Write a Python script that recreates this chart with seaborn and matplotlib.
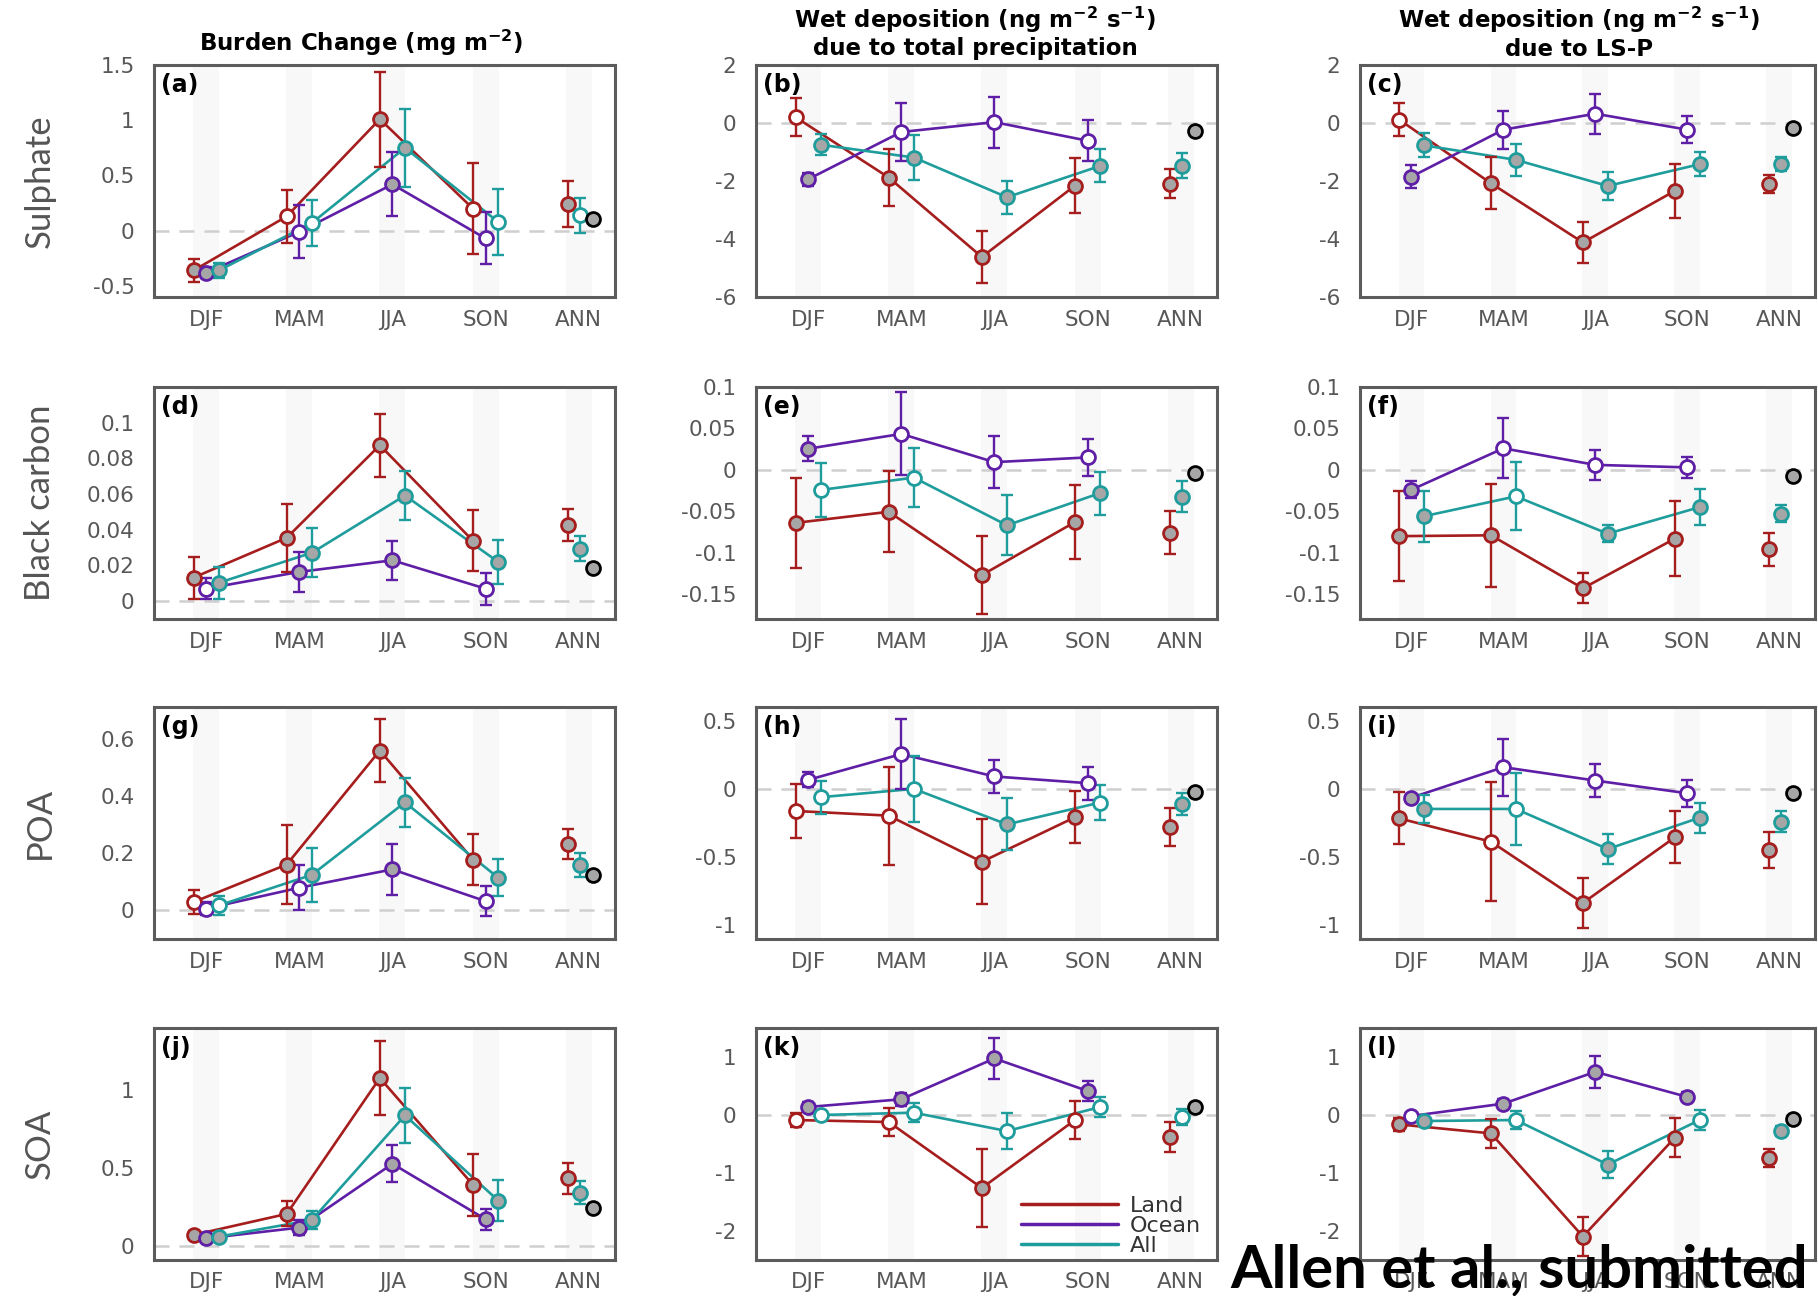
import matplotlib
matplotlib.use("Agg")
import matplotlib.pyplot as plt
from matplotlib.lines import Line2D
import numpy as np
import seaborn as sns

# ---------------------------------------------------------------- data
seasons = ["DJF", "MAM", "JJA", "SON", "ANN"]
regions = ["Land", "Ocean", "All"]
species = ["Sulphate", "Black carbon", "POA", "SOA"]
letters = ["a", "b", "c", "d", "e", "f", "g", "h", "i", "j", "k", "l"]

# sig: 1 = significant change (grey-filled marker), 0 = not significant (open marker)
# Ocean has no annual value; the annual global mean is a separate point.

# (a) Sulphate burden change
a_land, a_land_err, a_land_sig = [-0.36, 0.13, 1.01, 0.20, 0.24], [0.10, 0.24, 0.43, 0.41, 0.21], [1, 0, 1, 0, 1]
a_ocean, a_ocean_err, a_ocean_sig = [-0.38, -0.01, 0.42, -0.07], [0.05, 0.24, 0.29, 0.235], [1, 0, 1, 0]
a_all, a_all_err, a_all_sig = [-0.36, 0.07, 0.75, 0.08, 0.14], [0.07, 0.21, 0.35, 0.30, 0.16], [1, 0, 1, 0, 0]
a_glob, a_glob_err = 0.11, 0.02

# (b) Sulphate wet deposition, total precipitation
b_land, b_land_err, b_land_sig = [0.20, -1.88, -4.62, -2.16, -2.10], [0.65, 0.97, 0.90, 0.94, 0.50], [0, 1, 1, 1, 1]
b_ocean, b_ocean_err, b_ocean_sig = [-1.94, -0.31, 0.03, -0.61], [0.22, 1.00, 0.88, 0.70], [1, 0, 0, 0]
b_all, b_all_err, b_all_sig = [-0.75, -1.19, -2.56, -1.48, -1.48], [0.36, 0.78, 0.57, 0.57, 0.43], [1, 1, 1, 1, 1]
b_glob, b_glob_err = -0.29, 0.0

# (c) Sulphate wet deposition, LS-P
c_land, c_land_err, c_land_sig = [0.12, -2.08, -4.12, -2.34, -2.11], [0.58, 0.90, 0.72, 0.92, 0.30], [0, 1, 1, 1, 1]
c_ocean, c_ocean_err, c_ocean_sig = [-1.85, -0.23, 0.32, -0.23], [0.39, 0.65, 0.69, 0.47], [1, 0, 0, 0]
c_all, c_all_err, c_all_sig = [-0.77, -1.27, -2.17, -1.42, -1.41], [0.41, 0.56, 0.49, 0.42, 0.25], [1, 1, 1, 1, 1]
c_glob, c_glob_err = -0.17, 0.0

# (d) Black carbon burden change
d_land, d_land_err, d_land_sig = [0.0132, 0.0355, 0.0874, 0.0338, 0.0427], [0.0118, 0.019, 0.0177, 0.017, 0.0092], [1, 1, 1, 1, 1]
d_ocean, d_ocean_err, d_ocean_sig = [0.007, 0.0164, 0.0229, 0.007], [0.006, 0.011, 0.011, 0.009], [0, 1, 1, 0]
d_all, d_all_err, d_all_sig = [0.0103, 0.0271, 0.0592, 0.022, 0.0295], [0.009, 0.0138, 0.014, 0.0122, 0.0072], [1, 1, 1, 1, 1]
d_glob, d_glob_err = 0.0188, 0.002

# (e) Black carbon wet deposition, total precipitation
e_land, e_land_err, e_land_sig = [-0.064, -0.0506, -0.127, -0.063, -0.076], [0.054, 0.049, 0.047, 0.045, 0.026], [1, 1, 1, 1, 1]
e_ocean, e_ocean_err, e_ocean_sig = [0.0255, 0.0434, 0.0093, 0.015], [0.015, 0.05, 0.031, 0.022], [1, 0, 0, 0]
e_all, e_all_err, e_all_sig = [-0.0243, -0.0093, -0.0669, -0.028, -0.0324], [0.032, 0.036, 0.036, 0.026, 0.019], [0, 0, 1, 1, 1]
e_glob, e_glob_err = -0.0032, 0.0

# (f) Black carbon wet deposition, LS-P
f_land, f_land_err, f_land_sig = [-0.080, -0.079, -0.143, -0.083, -0.096], [0.054, 0.062, 0.018, 0.045, 0.0195], [1, 1, 1, 1, 1]
f_ocean, f_ocean_err, f_ocean_sig = [-0.024, 0.026, 0.006, 0.003], [0.010, 0.036, 0.018, 0.013], [1, 0, 0, 0]
f_all, f_all_err, f_all_sig = [-0.056, -0.032, -0.077, -0.045, -0.053], [0.031, 0.041, 0.010, 0.022, 0.010], [1, 0, 1, 1, 1]
f_glob, f_glob_err = -0.007, 0.0

# (g) POA burden change
g_land, g_land_err, g_land_sig = [0.029, 0.16, 0.558, 0.177, 0.232], [0.042, 0.137, 0.11, 0.089, 0.052], [0, 1, 1, 1, 1]
g_ocean, g_ocean_err, g_ocean_sig = [0.006, 0.079, 0.143, 0.032], [0.023, 0.078, 0.09, 0.053], [0, 0, 1, 0]
g_all, g_all_err, g_all_sig = [0.017, 0.124, 0.377, 0.114, 0.16], [0.033, 0.095, 0.085, 0.065, 0.042], [0, 1, 1, 1, 1]
g_glob, g_glob_err = 0.124, 0.012

# (h) POA wet deposition, total precipitation
h_land, h_land_err, h_land_sig = [-0.162, -0.196, -0.534, -0.208, -0.277], [0.20, 0.36, 0.31, 0.19, 0.14], [0, 0, 1, 1, 1]
h_ocean, h_ocean_err, h_ocean_sig = [0.066, 0.255, 0.091, 0.042], [0.055, 0.257, 0.12, 0.12], [0, 0, 0, 0]
h_all, h_all_err, h_all_sig = [-0.061, 0.0, -0.26, -0.10, -0.11], [0.12, 0.243, 0.19, 0.125, 0.08], [0, 0, 1, 0, 1]
h_glob, h_glob_err = -0.02, 0.0

# (i) POA wet deposition, LS-P
i_land, i_land_err, i_land_sig = [-0.216, -0.387, -0.836, -0.355, -0.449], [0.19, 0.435, 0.186, 0.19, 0.132], [1, 0, 1, 1, 1]
i_ocean, i_ocean_err, i_ocean_sig = [-0.064, 0.159, 0.061, -0.032], [0.03, 0.21, 0.12, 0.10], [1, 0, 0, 0]
i_all, i_all_err, i_all_sig = [-0.147, -0.147, -0.441, -0.211, -0.24], [0.105, 0.267, 0.11, 0.11, 0.076], [1, 0, 1, 1, 1]
i_glob, i_glob_err = -0.027, 0.0

# (j) SOA burden change
j_land, j_land_err, j_land_sig = [0.071, 0.206, 1.079, 0.393, 0.436], [0.028, 0.08, 0.238, 0.20, 0.10], [1, 1, 1, 1, 1]
j_ocean, j_ocean_err, j_ocean_sig = [0.049, 0.118, 0.528, 0.172], [0.015, 0.05, 0.12, 0.068], [1, 1, 1, 1]
j_all, j_all_err, j_all_sig = [0.06, 0.167, 0.839, 0.292, 0.343], [0.012, 0.056, 0.175, 0.134, 0.075], [1, 1, 1, 1, 1]
j_glob, j_glob_err = 0.247, 0.0

# (k) SOA wet deposition, total precipitation
k_land, k_land_err, k_land_sig = [-0.087, -0.121, -1.258, -0.087, -0.381], [0.115, 0.24, 0.67, 0.32, 0.265], [0, 0, 1, 0, 1]
k_ocean, k_ocean_err, k_ocean_sig = [0.138, 0.271, 0.975, 0.415], [0.078, 0.115, 0.35, 0.174], [1, 1, 1, 1]
k_all, k_all_err, k_all_sig = [0.0, 0.04, -0.277, 0.138, -0.029], [0.04, 0.16, 0.315, 0.18, 0.14], [0, 0, 0, 0, 0]
k_glob, k_glob_err = 0.138, 0.0

# (l) SOA wet deposition, LS-P
l_land, l_land_err, l_land_sig = [-0.162, -0.317, -2.095, -0.392, -0.739], [0.115, 0.245, 0.33, 0.335, 0.16], [1, 1, 1, 1, 1]
l_ocean, l_ocean_err, l_ocean_sig = [-0.017, 0.196, 0.744, 0.312], [0.04, 0.087, 0.28, 0.078], [0, 1, 1, 1]
l_all, l_all_err, l_all_sig = [-0.104, -0.087, -0.854, -0.087, -0.277], [0.04, 0.16, 0.236, 0.18, 0.087], [1, 0, 1, 0, 1]
l_glob, l_glob_err = -0.075, 0.0

# y-axis ticks and labels
yticks_a, ylabels_a = [-0.5, 0, 0.5, 1, 1.5], ["-0.5", "0", "0.5", "1", "1.5"]
yticks_bc, ylabels_bc = [-6, -4, -2, 0, 2], ["-6", "-4", "-2", "0", "2"]
yticks_d, ylabels_d = [0, 0.02, 0.04, 0.06, 0.08, 0.1], ["0", "0.02", "0.04", "0.06", "0.08", "0.1"]
yticks_ef, ylabels_ef = [-0.15, -0.1, -0.05, 0, 0.05, 0.1], ["-0.15", "-0.1", "-0.05", "0", "0.05", "0.1"]
yticks_g, ylabels_g = [0, 0.2, 0.4, 0.6], ["0", "0.2", "0.4", "0.6"]
yticks_hi, ylabels_hi = [-1, -0.5, 0, 0.5], ["-1", "-0.5", "0", "0.5"]
yticks_j, ylabels_j = [0, 0.5, 1], ["0", "0.5", "1"]
yticks_kl, ylabels_kl = [-2, -1, 0, 1], ["-2", "-1", "0", "1"]

# ---------------------------------------------------------------- style
sns.set_theme(style="white")
plt.rcParams["font.family"] = ["DejaVu Sans"]

colors = {"Land": "#a51d1d", "Ocean": "#5f1ea6", "All": "#1f9d9c"}
fill_sig, fill_ns = "#a6a6a6", "#ffffff"
tick_grey = "#585858"
offsets = {"Land": -0.135, "Ocean": 0.0, "All": 0.135}
ann_offsets = {"Land": -0.11, "All": 0.015, "glob": 0.15}
narrow = ["Liberation Sans Narrow", "Lato", "DejaVu Sans"]

W, H = 1818, 1296
fig = plt.figure(figsize=(W / 100, H / 100), dpi=100)

col_left = [154, 756, 1360]
col_width = [461, 461, 455]
row_top = [65, 387, 707, 1028]
row_h = 232

panels = [
    ((a_land, a_land_err, a_land_sig), (a_ocean, a_ocean_err, a_ocean_sig), (a_all, a_all_err, a_all_sig), (a_glob, a_glob_err), (-0.6, 1.5), yticks_a, ylabels_a),
    ((b_land, b_land_err, b_land_sig), (b_ocean, b_ocean_err, b_ocean_sig), (b_all, b_all_err, b_all_sig), (b_glob, b_glob_err), (-6, 2), yticks_bc, ylabels_bc),
    ((c_land, c_land_err, c_land_sig), (c_ocean, c_ocean_err, c_ocean_sig), (c_all, c_all_err, c_all_sig), (c_glob, c_glob_err), (-6, 2), yticks_bc, ylabels_bc),
    ((d_land, d_land_err, d_land_sig), (d_ocean, d_ocean_err, d_ocean_sig), (d_all, d_all_err, d_all_sig), (d_glob, d_glob_err), (-0.01, 0.12), yticks_d, ylabels_d),
    ((e_land, e_land_err, e_land_sig), (e_ocean, e_ocean_err, e_ocean_sig), (e_all, e_all_err, e_all_sig), (e_glob, e_glob_err), (-0.18, 0.1), yticks_ef, ylabels_ef),
    ((f_land, f_land_err, f_land_sig), (f_ocean, f_ocean_err, f_ocean_sig), (f_all, f_all_err, f_all_sig), (f_glob, f_glob_err), (-0.18, 0.1), yticks_ef, ylabels_ef),
    ((g_land, g_land_err, g_land_sig), (g_ocean, g_ocean_err, g_ocean_sig), (g_all, g_all_err, g_all_sig), (g_glob, g_glob_err), (-0.1, 0.71), yticks_g, ylabels_g),
    ((h_land, h_land_err, h_land_sig), (h_ocean, h_ocean_err, h_ocean_sig), (h_all, h_all_err, h_all_sig), (h_glob, h_glob_err), (-1.1, 0.6), yticks_hi, ylabels_hi),
    ((i_land, i_land_err, i_land_sig), (i_ocean, i_ocean_err, i_ocean_sig), (i_all, i_all_err, i_all_sig), (i_glob, i_glob_err), (-1.1, 0.6), yticks_hi, ylabels_hi),
    ((j_land, j_land_err, j_land_sig), (j_ocean, j_ocean_err, j_ocean_sig), (j_all, j_all_err, j_all_sig), (j_glob, j_glob_err), (-0.09, 1.4), yticks_j, ylabels_j),
    ((k_land, k_land_err, k_land_sig), (k_ocean, k_ocean_err, k_ocean_sig), (k_all, k_all_err, k_all_sig), (k_glob, k_glob_err), (-2.5, 1.5), yticks_kl, ylabels_kl),
    ((l_land, l_land_err, l_land_sig), (l_ocean, l_ocean_err, l_ocean_sig), (l_all, l_all_err, l_all_sig), (l_glob, l_glob_err), (-2.5, 1.5), yticks_kl, ylabels_kl),
]


def draw_marker(ax, x, y, edge, sig):
    ax.plot([x], [y], "o", ms=10, mec=edge, mew=2.0,
            mfc=fill_sig if sig else fill_ns, zorder=4, clip_on=False)


for idx, (land, ocean, allr, glob, ylim, yt, yl) in enumerate(panels):
    r, c = divmod(idx, 3)
    ax = fig.add_axes([col_left[c] / W, 1 - (row_top[r] + row_h) / H,
                       col_width[c] / W, row_h / H])
    ax.set_facecolor("white")

    # faint season bands and zero reference line
    for i in range(len(seasons)):
        ax.axvspan(i - 0.14, i + 0.14, color="#f8f8f8", lw=0, zorder=0)
    ax.axhline(0, color="#cfcfcf", lw=1.8, ls=(0, (6, 4)), zorder=1)

    for name, (vals, errs, sig) in zip(regions, (land, ocean, allr)):
        col = colors[name]
        xs = [i + offsets[name] for i in range(4)]
        sns.lineplot(x=xs, y=vals[:4], ax=ax, color=col, linewidth=1.9,
                     legend=False, zorder=2)
        if len(vals) == 5:
            xs = xs + [4 + ann_offsets[name]]
        ax.errorbar(xs, vals, yerr=errs, fmt="none", ecolor=col,
                    elinewidth=1.7, capsize=4.5, capthick=1.7, zorder=3)
        for x, y, s in zip(xs, vals, sig):
            draw_marker(ax, x, y, col, s)

    gx = 4 + ann_offsets["glob"]
    if glob[1] > 0:
        ax.errorbar([gx], [glob[0]], yerr=[glob[1]], fmt="none", ecolor="black",
                    elinewidth=1.7, capsize=4.5, capthick=1.7, zorder=3)
    draw_marker(ax, gx, glob[0], "black", 1)

    ax.set_xlim(-0.56, 4.39)
    ax.set_ylim(*ylim)
    ax.set_xticks(range(len(seasons)))
    ax.set_xticklabels(seasons)
    ax.set_yticks(yt)
    ax.set_yticklabels(yl)
    ax.tick_params(axis="both", length=0, labelsize=15.5, labelcolor=tick_grey)
    ax.tick_params(axis="x", pad=9)
    ax.tick_params(axis="y", pad=14)
    for sp in ax.spines.values():
        sp.set_visible(True)
        sp.set_color("#5c5c5c")
        sp.set_linewidth(2.2)
    ax.grid(False)

    ax.text(0.016, 0.965, f"({letters[idx]})", transform=ax.transAxes,
            ha="left", va="top", fontsize=17, fontweight="bold", color="black")

    if idx == 10:
        handles = [Line2D([], [], color=colors[n], lw=2.5) for n in regions]
        ax.legend(handles, regions, loc="lower left",
                  bbox_to_anchor=(0.55, -0.03), frameon=False, fontsize=16,
                  handlelength=4.4, handletextpad=0.5, labelspacing=0.0,
                  borderpad=0, labelcolor="#333333")

# row labels
for r, name in enumerate(species):
    yc = 1 - (row_top[r] + row_h / 2) / H
    fig.text(40 / W, yc, name, rotation=90, ha="center", va="center",
             fontsize=25, color="#555555", family=narrow)

# column titles
title_kw = dict(ha="center", va="center", fontsize=16.5, fontweight="bold", color="black")
fig.text(361 / W, 1 - 43 / H, r"Burden Change (mg m$^{\mathbf{-2}}$)", **title_kw)
fig.text(975 / W, 1 - 20 / H, r"Wet deposition (ng m$^{\mathbf{-2}}$ s$^{\mathbf{-1}}$)", **title_kw)
fig.text(975 / W, 1 - 49 / H, "due to total precipitation", **title_kw)
fig.text(1579 / W, 1 - 20 / H, r"Wet deposition (ng m$^{\mathbf{-2}}$ s$^{\mathbf{-1}}$)", **title_kw)
fig.text(1579 / W, 1 - 49 / H, "due to LS-P", **title_kw)

fig.text(1230 / W, 1 - 1287 / H, "Allen et al., submitted", ha="left", va="baseline",
         fontsize=43, fontweight="bold", color="black", family=narrow, zorder=10)

fig.savefig("out.png", dpi=100, facecolor="white")
